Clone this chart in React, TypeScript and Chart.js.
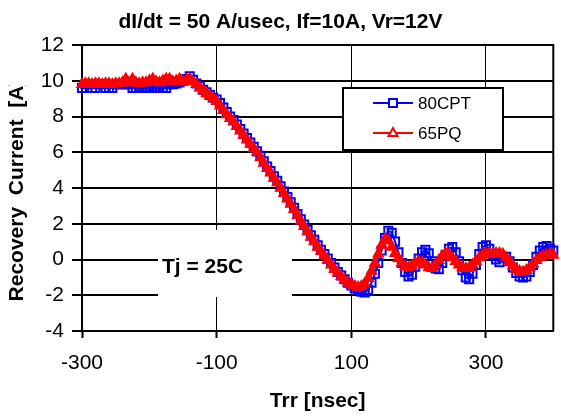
import { useEffect, useRef } from "react";
import { Chart, registerables } from "chart.js";

Chart.register(...registerables);

const TITLE = "dI/dt = 50 A/usec, If=10A, Vr=12V";
const X_TITLE = "Trr [nsec]";
const Y_TITLE = "Recovery  Current  [A]";
const NOTE = "Tj = 25C";
const X_TICKS = [-300, -100, 100, 300];
const Y_TICKS = [-4, -2, 0, 2, 4, 6, 8, 10, 12];

const TIME_NS = [
  -300, -295, -290, -285, -280, -275, -270, -265, -260, -255,
  -250, -245, -240, -235, -230, -225, -220, -215, -210, -205,
  -200, -195, -190, -185, -180, -175, -170, -165, -160, -155,
  -150, -145, -140, -135, -130, -125, -120, -115, -110, -105,
  -100, -95, -90, -85, -80, -75, -70, -65, -60, -55,
  -50, -45, -40, -35, -30, -25, -20, -15, -10, -5,
  0, 5, 10, 15, 20, 25, 30, 35, 40, 45,
  50, 55, 60, 65, 70, 75, 80, 85, 90, 95,
  100, 105, 110, 115, 120, 125, 130, 135, 140, 145,
  150, 155, 160, 165, 170, 175, 180, 185, 190, 195,
  200, 205, 210, 215, 220, 225, 230, 235, 240, 245,
  250, 255, 260, 265, 270, 275, 280, 285, 290, 295,
  300, 305, 310, 315, 320, 325, 330, 335, 340, 345,
  350, 355, 360, 365, 370, 375, 380, 385, 390, 395,
  400,
];

const CPT80 = [
  9.6, 9.8, 9.8, 9.6, 9.6, 9.8, 9.8, 9.6, 9.6, 9.6,
  9.8, 9.8, 9.8, 9.8, 9.8, 9.6, 9.6, 9.6, 9.6, 9.6,
  9.6, 9.6, 9.6, 9.6, 9.6, 9.6, 9.8, 9.8, 9.85, 9.9,
  10.0, 10.1, 10.25, 10.05, 9.85, 9.7, 9.5, 9.35, 9.2, 9.05,
  8.95, 8.75, 8.5, 8.25, 8.0, 7.8, 7.55, 7.3, 7.05, 6.8,
  6.55, 6.3, 6.05, 5.8, 5.5, 5.2, 4.95, 4.65, 4.4, 4.1,
  3.8, 3.5, 3.2, 2.9, 2.55, 2.25, 1.95, 1.65, 1.35, 1.1,
  0.8, 0.55, 0.3, 0.05, -0.2, -0.45, -0.7, -0.9, -1.1, -1.3,
  -1.45, -1.6, -1.7, -1.8, -1.85, -1.7, -1.3, -0.8, -0.2, 0.5,
  1.2, 1.6, 1.5, 1.0, 0.4, -0.2, -0.7, -0.95, -0.85, -0.4,
  0.05, 0.4, 0.55, 0.35, -0.1, -0.5, -0.55, -0.2, 0.25, 0.6,
  0.7, 0.4, -0.1, -0.6, -1.0, -1.1, -0.8, -0.3, 0.3, 0.7,
  0.8, 0.6, 0.3, 0.0, -0.15, 0.1, 0.15, -0.1, -0.45, -0.75,
  -0.95, -1.0, -0.95, -0.7, -0.3, 0.15, 0.5, 0.7, 0.75, 0.6,
  0.5,
];

const PQ65 = [
  9.8, 9.85, 9.85, 9.8, 9.85, 9.85, 9.8, 9.85, 9.85, 9.8,
  9.85, 9.85, 9.9, 10.1, 9.9, 10.1, 9.9, 9.85, 9.9, 9.9,
  10.0, 10.1, 9.95, 9.9, 10.0, 10.1, 10.1, 9.95, 10.0, 10.1,
  9.95, 10.05, 10.1, 9.95, 9.8, 9.6, 9.45, 9.3, 9.15, 9.0,
  8.85, 8.6, 8.35, 8.1, 7.9, 7.7, 7.45, 7.2, 6.95, 6.7,
  6.45, 6.2, 6.0, 5.7, 5.4, 5.1, 4.85, 4.55, 4.3, 4.0,
  3.7, 3.4, 3.1, 2.8, 2.45, 2.15, 1.85, 1.55, 1.25, 1.0,
  0.7, 0.45, 0.2, -0.05, -0.3, -0.55, -0.75, -0.95, -1.15, -1.3,
  -1.4, -1.5, -1.55, -1.5, -1.35, -1.05, -0.65, -0.2, 0.3, 0.8,
  1.15, 1.05, 0.7, 0.35, 0.05, -0.2, -0.4, -0.45, -0.35, -0.2,
  -0.1, -0.15, -0.3, -0.45, -0.5, -0.3, -0.05, 0.2, 0.35, 0.3,
  0.1, -0.1, -0.3, -0.45, -0.5, -0.45, -0.3, -0.1, 0.1, 0.25,
  0.35, 0.35, 0.3, 0.35, 0.35, 0.3, 0.1, -0.1, -0.35, -0.55,
  -0.65, -0.7, -0.6, -0.45, -0.25, -0.05, 0.1, 0.2, 0.25, 0.3,
  0.25,
];

const FONT = "'Liberation Sans', Arial, Helvetica, sans-serif";
const BLUE = "#0000ff";
const RED = "#ff0000";

function drawMarker(ctx: CanvasRenderingContext2D, style: string, x: number, y: number, color: string) {
  ctx.save();
  ctx.strokeStyle = color;
  ctx.fillStyle = "#fff";
  ctx.lineWidth = 2;
  ctx.beginPath();
  if (style === "rect") {
    ctx.rect(x - 4, y - 4, 8, 8);
  } else {
    ctx.moveTo(x, y - 5);
    ctx.lineTo(x + 4.5, y + 3);
    ctx.lineTo(x - 4.5, y + 3);
    ctx.closePath();
  }
  ctx.fill();
  ctx.stroke();
  ctx.restore();
}

const decor = {
  id: "decor",
  beforeDatasetsDraw(chart: any) {
    const { ctx, chartArea: a } = chart;
    ctx.save();
    ctx.strokeStyle = "#000";
    ctx.lineWidth = 2;
    ctx.beginPath();
    ctx.moveTo(a.left, a.top);
    ctx.lineTo(a.right, a.top);
    ctx.lineTo(a.right, a.bottom);
    ctx.stroke();
    // annotation box
    ctx.fillStyle = "#fff";
    ctx.fillRect(a.left + 76, a.top + 185, 134, 67);
    ctx.fillStyle = "#000";
    ctx.font = `bold 21px ${FONT}`;
    ctx.textAlign = "left";
    ctx.textBaseline = "alphabetic";
    ctx.fillText(NOTE, a.left + 80, a.top + 228);
    ctx.restore();
  },
  afterDatasetsDraw(chart: any) {
    const { ctx, chartArea: a } = chart;
    const lx = a.left + 261;
    const ly = a.top + 43;
    ctx.save();
    ctx.fillStyle = "#fff";
    ctx.fillRect(lx, ly, 160, 62);
    ctx.strokeStyle = "#000";
    ctx.lineWidth = 2;
    ctx.strokeRect(lx, ly, 160, 62);
    const ds = chart.data.datasets;
    const rows = [ds[0], ds[1]];
    rows.forEach((d: any, i: number) => {
      const y = ly + 15 + i * 30;
      ctx.strokeStyle = d.borderColor;
      ctx.lineWidth = 2;
      ctx.beginPath();
      ctx.moveTo(lx + 30, y);
      ctx.lineTo(lx + 70, y);
      ctx.stroke();
      drawMarker(ctx, d.pointStyle, lx + 50, y, d.borderColor);
      ctx.fillStyle = "#000";
      ctx.font = `17px ${FONT}`;
      ctx.textAlign = "left";
      ctx.textBaseline = "middle";
      ctx.fillText(d.label, lx + 75, y + 1);
    });
    ctx.restore();
  },
  afterDraw(chart: any) {
    const { ctx, chartArea: a, width } = chart;
    ctx.save();
    ctx.fillStyle = "#000";
    ctx.font = `bold 21px ${FONT}`;
    ctx.textAlign = "center";
    ctx.textBaseline = "alphabetic";
    ctx.fillText(TITLE, width / 2, 28);
    ctx.fillText(X_TITLE, (a.left + a.right) / 2, 407);
    // y title, clipped at the top like the original
    ctx.save();
    ctx.beginPath();
    ctx.rect(0, 85, 40, 300);
    ctx.clip();
    ctx.translate(23, 190);
    ctx.rotate(-Math.PI / 2);
    ctx.fillText(Y_TITLE, 0, 0);
    ctx.restore();
    ctx.restore();
  },
};

export default function App() {
  const ref = useRef<HTMLCanvasElement | null>(null);
  useEffect(() => {
    document.body.style.margin = "0";
    const canvas = ref.current;
    if (!canvas) return;
    const chart = new Chart(canvas, {
      type: "line",
      data: {
        datasets: [
          {
            label: "80CPT",
            data: TIME_NS.map((x, i) => ({ x, y: CPT80[i] })),
            borderColor: BLUE,
            backgroundColor: BLUE,
            borderWidth: 2,
            pointStyle: "rect",
            pointRadius: 5.7,
            pointBorderWidth: 2,
            pointBorderColor: BLUE,
            pointBackgroundColor: "rgba(0,0,0,0)",
            tension: 0,
            clip: false,
            order: 2,
          } as any,
          {
            label: "65PQ",
            data: TIME_NS.map((x, i) => ({ x, y: PQ65[i] })),
            borderColor: RED,
            backgroundColor: RED,
            borderWidth: 3,
            pointStyle: "triangle",
            pointRadius: 5.8,
            pointBorderWidth: 1.5,
            pointBorderColor: RED,
            pointBackgroundColor: RED,
            tension: 0,
            clip: false,
            order: 1,
          } as any,
        ],
      },
      options: {
        responsive: false,
        animation: false,
        events: [],
        layout: { padding: { top: 45, right: 2, left: 0, bottom: 0 } },
        plugins: {
          legend: { display: false },
          title: { display: false },
          tooltip: { enabled: false },
        },
        scales: {
          x: {
            type: "linear",
            min: -300,
            max: 400,
            afterBuildTicks: (s: any) => {
              s.ticks = X_TICKS.map((v) => ({ value: v }));
            },
            afterFit: (s: any) => {
              s.height = 85;
            },
            grid: { color: "#000", lineWidth: 1, tickLength: 7, tickWidth: 2, tickColor: "#000" },
            border: { color: "#000", width: 2 },
            ticks: {
              color: "#000",
              font: { family: FONT, size: 21 },
              padding: 13,
              maxRotation: 0,
              autoSkip: false,
            },
          },
          y: {
            type: "linear",
            min: -4,
            max: 12,
            afterBuildTicks: (s: any) => {
              s.ticks = Y_TICKS.map((v) => ({ value: v }));
            },
            afterFit: (s: any) => {
              s.width = 82;
            },
            grid: { color: "#000", lineWidth: 2, tickLength: 10, tickWidth: 2, tickColor: "#000" },
            border: { color: "#000", width: 2 },
            ticks: {
              color: "#000",
              font: { family: FONT, size: 21 },
              padding: 8,
              autoSkip: false,
            },
          },
        },
      } as any,
      plugins: [decor],
    });
    return () => chart.destroy();
  }, []);
  return (
    <div style={{ width: 561, height: 416 }}>
      <canvas ref={ref} width={561} height={416} style={{ display: "block" }} />
    </div>
  );
}
